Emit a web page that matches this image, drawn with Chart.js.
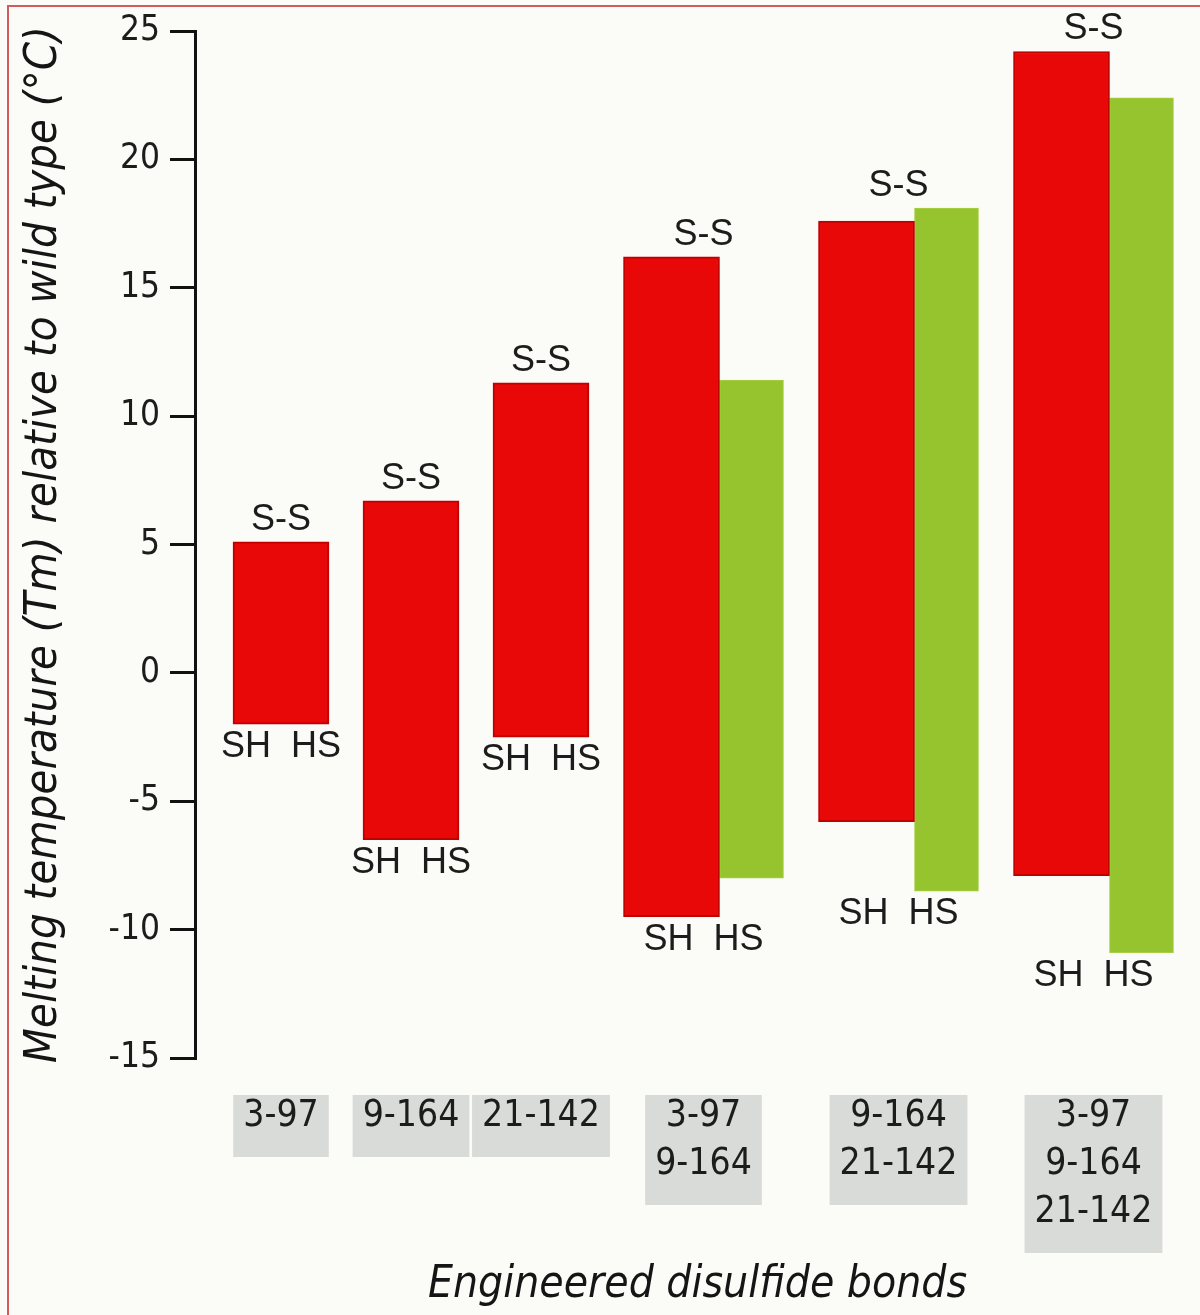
<!DOCTYPE html>
<html>
<head>
<meta charset="utf-8">
<title>Engineered disulfide bonds</title>
<script src="https://cdn.jsdelivr.net/npm/chart.js@4.4.1/dist/chart.umd.min.js"></script>
<style>
  html, body { margin: 0; padding: 0; background: #fbfbf8; }
  #wrap { position: relative; width: 1200px; height: 1315px; overflow: hidden; }
  #frame { position: absolute; left: 7px; top: 5px; right: -4px; bottom: -4px;
           border-top: 2px solid #d25b5b; border-left: 2px solid #d25b5b; pointer-events: none; }
  canvas { position: absolute; left: 0; top: 0; }
</style>
</head>
<body>
<div id="wrap">
  <canvas id="tmChart" width="1200" height="1315"></canvas>
  <div id="frame"></div>
</div>
<script>
// bond combinations, one group each
const bondLabels = [['3-97'], ['9-164'], ['21-142'], ['3-97', '9-164'], ['9-164', '21-142'], ['3-97', '9-164', '21-142']];
// red bars: reduced (SH HS) -> oxidized (S-S)
const redLow  = [-2.0, -6.5, -2.5, -9.5, -5.8, -7.9];
const redHigh = [5.1, 6.7, 11.3, 16.2, 17.6, 24.2];
// green bars, only for the combined bonds
const greenLow  = [null, null, null, -8.0, -8.5, -10.9];
const greenHigh = [null, null, null, 11.4, 18.1, 22.4];
// y axis
const yMin = -15, yMax = 25, yStep = 5;

const NARROW = '"Liberation Sans Narrow", "DejaVu Sans Condensed", "Liberation Sans", sans-serif';
const PLAIN = '"Liberation Sans", Arial, sans-serif';

// x layout: a group with one bar takes 2 slots, a pair takes 3
const UNIT = 65, RED_W = 96, GREEN_W = 64;
const slotWidth = greenHigh.map(v => v === null ? 2 : 3);
const groupCenter = [];
let acc = 0;
slotWidth.forEach(w => { groupCenter.push(acc + w / 2); acc += w; });
// the red/green seam sits right of the group centre since red is wider
const barX = groupCenter.map((c, i) => greenHigh[i] === null ? c : c + (RED_W - GREEN_W) / 2 / UNIT);
const xMin = -21 / UNIT;
const xMax = xMin + (1200 - 195) / UNIT;

const redData = barX.map((x, i) => ({ x: x, y: [redLow[i], redHigh[i]] }));
const greenData = barX.map((x, i) => ({ x: x, y: greenHigh[i] === null ? null : [greenLow[i], greenHigh[i]] }));

const bondMarks = {
    id: 'bondMarks',
    beforeDraw(chart) {
        // grey boxes behind the bond labels
        const xs = chart.scales.x;
        const ctx = chart.ctx;
        ctx.save();
        ctx.font = '37px ' + NARROW;
        ctx.fillStyle = '#d9dbd8';
        bondLabels.forEach((lines, i) => {
            const cx = xs.getPixelForValue(groupCenter[i]);
            const w = Math.max(...lines.map(t => ctx.measureText(t).width)) + 20;
            const top = xs.top + 37;
            ctx.fillRect(cx - w / 2, top, w, lines.length * 48 + 14);
        });
        ctx.restore();
    },
    afterDatasetsDraw(chart) {
        const red = chart.getDatasetMeta(0).data;
        const green = chart.getDatasetMeta(1).data;
        const ctx = chart.ctx;
        ctx.save();
        ctx.font = '36px ' + PLAIN;
        ctx.fillStyle = '#1c1c1c';
        ctx.textAlign = 'center';
        ctx.textBaseline = 'middle';
        red.forEach((bar, i) => {
            const bars = [bar];
            if (greenHigh[i] !== null) bars.push(green[i]);
            const left = Math.min(...bars.map(b => b.x - b.width / 2));
            const right = Math.max(...bars.map(b => b.x + b.width / 2));
            const top = Math.min(...bars.map(b => Math.min(b.y, b.base)));
            const bottom = Math.max(...bars.map(b => Math.max(b.y, b.base)));
            const cx = (left + right) / 2;
            ctx.fillText('S-S', cx, top - 22);
            ctx.fillText('SH  HS', cx, bottom + 23);
        });
        ctx.restore();
    }
};

new Chart(document.getElementById('tmChart'), {
    type: 'bar',
    data: {
        datasets: [{
            label: 'measured',
            data: redData,
            backgroundColor: '#e80808',
            borderColor: '#c10000',
            borderWidth: 2,
            borderSkipped: false,
            barThickness: RED_W,
            grouped: true,
            skipNull: true
        }, {
            label: 'sum of single bonds',
            data: greenData,
            backgroundColor: '#96c42e',
            borderColor: '#a9cf45',
            borderWidth: 1,
            borderSkipped: false,
            barThickness: GREEN_W,
            grouped: true,
            skipNull: true
        }]
    },
    options: {
        responsive: false,
        animation: false,
        layout: { padding: { top: 28, right: 0, bottom: 0, left: 0 } },
        plugins: {
            legend: { display: false },
            tooltip: { enabled: false }
        },
        scales: {
            x: {
                type: 'linear',
                offset: false,
                min: xMin,
                max: xMax,
                grid: { display: false, drawTicks: false, offset: false },
                border: { display: false },
                afterBuildTicks: s => { s.ticks = groupCenter.map(v => ({ value: v })); },
                afterFit: s => { s.height = 257; },
                ticks: {
                    autoSkip: false,
                    maxRotation: 0,
                    padding: 34,
                    color: '#1c1c1c',
                    font: { family: NARROW, size: 37, lineHeight: 1.297 },
                    callback: (v, i) => bondLabels[i]
                },
                title: {
                    display: true,
                    text: 'Engineered disulfide bonds',
                    color: '#151515',
                    font: { family: NARROW, size: 44, style: 'italic', lineHeight: 1.2 },
                    padding: { top: 0, bottom: 3 }
                }
            },
            y: {
                min: yMin,
                max: yMax,
                afterFit: s => { s.width = 195; },
                ticks: {
                    stepSize: yStep,
                    padding: 10,
                    color: '#1c1c1c',
                    font: { family: NARROW, size: 35 }
                },
                grid: { drawOnChartArea: false, drawTicks: true, tickLength: 25, color: '#111', lineWidth: 3 },
                border: { display: true, color: '#111', width: 3 },
                title: {
                    display: true,
                    text: 'Melting temperature (Tm) relative to wild type (°C)',
                    color: '#151515',
                    font: { family: NARROW, size: 45, style: 'italic', lineHeight: 1.2 },
                    padding: { top: 17, bottom: 0 }
                }
            }
        }
    },
    plugins: [bondMarks]
});
</script>
</body>
</html>
